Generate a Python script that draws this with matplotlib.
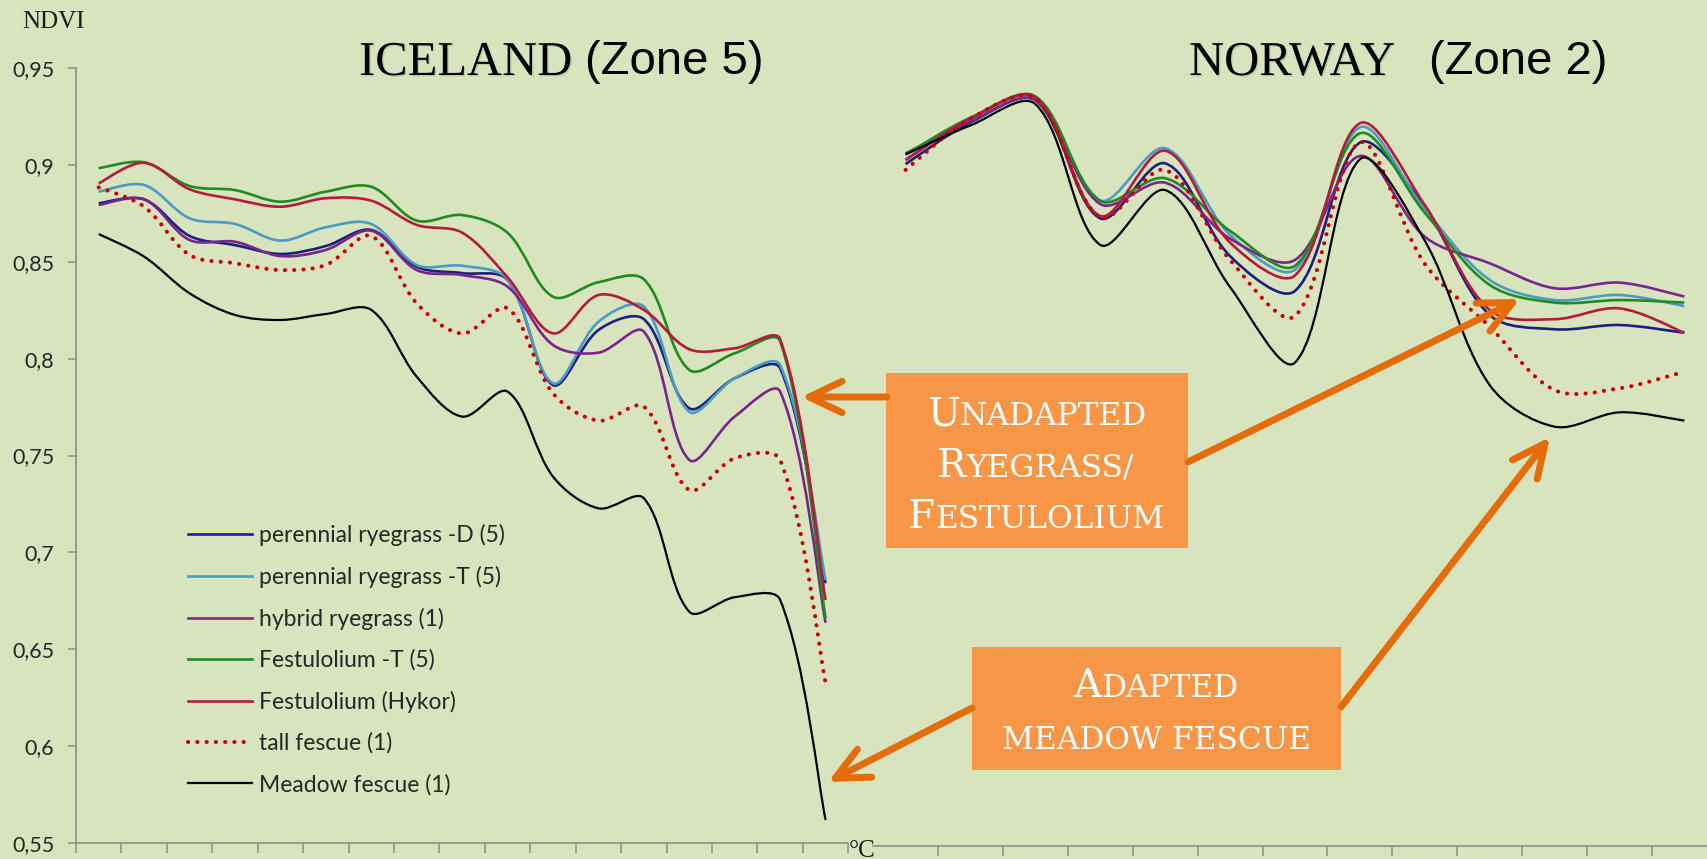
import numpy as np
import matplotlib
matplotlib.use('Agg')
import matplotlib.pyplot as plt
import matplotlib.patheffects as pe
from matplotlib.path import Path
from matplotlib.patches import PathPatch, Rectangle, FancyArrowPatch
from matplotlib.lines import Line2D
from matplotlib.transforms import IdentityTransform

W, H = 1708, 859
BG = '#d7e4bd'

# series names and styles (legend order)
names = ['perennial ryegrass -D (5)', 'perennial ryegrass -T (5)', 'hybrid ryegrass (1)',
         'Festulolium -T (5)', 'Festulolium (Hykor)', 'tall fescue (1)', 'Meadow fescue (1)']
colors = ['#1c1f80', '#4b9bc2', '#7a258c', '#1f8c1f', '#b41a3c', '#cc0000', '#000000']

# ICELAND (zone 5), 17 points
iceland = {
    'perennial ryegrass -D (5)': [0.8803, 0.8823, 0.8634, 0.8587, 0.8541, 0.8582, 0.8665, 0.8475, 0.8442,
                                  0.8407, 0.7864, 0.8148, 0.8204, 0.7744, 0.7899, 0.7950, 0.6840],
    'perennial ryegrass -T (5)': [0.8863, 0.8897, 0.8725, 0.8696, 0.8610, 0.8679, 0.8696, 0.8484, 0.8480,
                                  0.8410, 0.7873, 0.8191, 0.8269, 0.7726, 0.7899, 0.7967, 0.6857],
    'hybrid ryegrass (1)': [0.8794, 0.8823, 0.8613, 0.8604, 0.8530, 0.8562, 0.8661, 0.8458, 0.8432,
                            0.8372, 0.8071, 0.8031, 0.8140, 0.7477, 0.7701, 0.7830, 0.6636],
    'Festulolium -T (5)': [0.8984, 0.9014, 0.8892, 0.8871, 0.8811, 0.8863, 0.8888, 0.8713, 0.8742,
                           0.8650, 0.8320, 0.8395, 0.8410, 0.7942, 0.8028, 0.8090, 0.6660],
    'Festulolium (Hykor)': [0.8906, 0.9012, 0.8875, 0.8823, 0.8785, 0.8829, 0.8816, 0.8691, 0.8651,
                            0.8420, 0.8131, 0.8329, 0.8252, 0.8049, 0.8054, 0.8100, 0.6754],
    'tall fescue (1)': [0.8885, 0.8785, 0.8536, 0.8493, 0.8458, 0.8484, 0.8634, 0.8286, 0.8130,
                        0.8260, 0.7821, 0.7680, 0.7752, 0.7322, 0.7486, 0.7477, 0.6324],
    'Meadow fescue (1)': [0.8644, 0.8527, 0.8338, 0.8226, 0.8200, 0.8231, 0.8252, 0.7907, 0.7701,
                          0.7830, 0.7391, 0.7227, 0.7279, 0.6693, 0.6768, 0.6754, 0.5617],
}

# NORWAY (zone 2), 13 points
norway = {
    'perennial ryegrass -D (5)': [0.9005, 0.9220, 0.9335, 0.8725, 0.9009, 0.8530, 0.8350, 0.9116, 0.8780,
                                  0.8226, 0.8152, 0.8174, 0.8134],
    'perennial ryegrass -T (5)': [0.9030, 0.9235, 0.9345, 0.8816, 0.9087, 0.8640, 0.8460, 0.9195, 0.8773,
                                  0.8407, 0.8303, 0.8329, 0.8272],
    'hybrid ryegrass (1)': [0.9060, 0.9225, 0.9335, 0.8799, 0.8909, 0.8620, 0.8510, 0.9047, 0.8630,
                            0.8493, 0.8364, 0.8393, 0.8321],
    'Festulolium -T (5)': [0.9055, 0.9245, 0.9355, 0.8816, 0.8932, 0.8660, 0.8480, 0.9164, 0.8754,
                           0.8381, 0.8290, 0.8303, 0.8290],
    'Festulolium (Hykor)': [0.9025, 0.9240, 0.9350, 0.8737, 0.9074, 0.8600, 0.8430, 0.9216, 0.8794,
                            0.8252, 0.8204, 0.8260, 0.8134],
    'tall fescue (1)': [0.8975, 0.9240, 0.9345, 0.8730, 0.8975, 0.8510, 0.8220, 0.9117, 0.8490,
                        0.8166, 0.7838, 0.7847, 0.7933],
    'Meadow fescue (1)': [0.9055, 0.9205, 0.9315, 0.8588, 0.8871, 0.8370, 0.7980, 0.9030, 0.8610,
                          0.7864, 0.7649, 0.7723, 0.7680],
}

y_ticks = [0.55, 0.6, 0.65, 0.7, 0.75, 0.8, 0.85, 0.9, 0.95]
y_labels = ['0,55', '0,6', '0,65', '0,7', '0,75', '0,8', '0,85', '0,9', '0,95']


def px(x, y):
    return x / W, 1 - y / H


def smooth_path(ax, xs, ys):
    # excel-like smoothed line, bezier through each point,
    # handle lengths weighted by segment length on screen
    x0, x1 = ax.get_xlim()
    y0, y1 = ax.get_ylim()
    sx = ax.bbox.width / (x1 - x0)
    sy = ax.bbox.height / (y1 - y0)
    p = np.column_stack([np.asarray(xs) * sx, np.asarray(ys) * sy])
    n = len(p)
    seg = np.hypot(*np.diff(p, axis=0).T)
    verts = [p[0]]
    codes = [Path.MOVETO]
    for i in range(n - 1):
        b, c = p[i], p[i + 1]
        a = p[max(i - 1, 0)]
        d = p[min(i + 2, n - 1)]
        d_prev = seg[i - 1] if i > 0 else seg[i]
        d_next = seg[i + 1] if i + 1 < n - 1 else seg[i]
        t_b = (c - a) * seg[i] / (d_prev + seg[i]) / 3
        t_c = (d - b) * seg[i] / (seg[i] + d_next) / 3
        verts += [b + t_b, c - t_c, c]
        codes += [Path.CURVE4] * 3
    verts = np.array(verts) / [sx, sy]
    return Path(verts, codes)


def style(name):
    if name.startswith('tall'):
        return dict(lw=2.9, ls=(0, (0.05, 2.25)), capstyle='round')
    if name.startswith('Meadow'):
        return dict(lw=1.6, ls='-', capstyle='butt')
    return dict(lw=1.9, ls='-', capstyle='butt')


def draw_series(ax, table):
    for name, col in zip(names, colors):
        vals = table[name]
        s = style(name)
        patch = PathPatch(smooth_path(ax, np.arange(len(vals)), vals), fill=False, edgecolor=col,
                          lw=s['lw'], linestyle=s['ls'], capstyle=s['capstyle'],
                          transform=ax.transData)
        ax.add_patch(patch)


fig = plt.figure(figsize=(W / 100, H / 100), dpi=100, facecolor=BG)
grey = '#8c8c8c'

# left chart
ax1 = fig.add_axes([76 / W, 1 - 842.7 / H, (848.3 - 76) / W, (842.7 - 68.3) / H])
ax1.set_facecolor('none')
ax1.set_xlim(-0.5, 16.5)
ax1.set_ylim(0.55, 0.95)
draw_series(ax1, iceland)
for s in ['top', 'right']:
    ax1.spines[s].set_visible(False)
for s in ['left', 'bottom']:
    ax1.spines[s].set_color(grey)
    ax1.spines[s].set_linewidth(1.2)
ax1.set_xticks(np.arange(-0.5, 17, 1))
ax1.tick_params(axis='x', length=7, width=1.1, color=grey, labelbottom=False)
ax1.set_yticks(y_ticks)
ax1.set_yticklabels(y_labels)
ax1.tick_params(axis='y', length=5.5, width=1.1, color=grey, pad=10,
                labelsize=15.5, labelcolor='#262626')
for t in ax1.get_yticklabels():
    t.set_family('Lato')

# right chart
ax2 = fig.add_axes([873.1 / W, 1 - 846 / H, (64.9 * 13) / W, (846 - 68.3) / H])
ax2.set_facecolor('none')
ax2.set_xlim(-0.5, 12.5)
ax2.set_ylim(0.55 - 3.3 * 0.05 / 96.8, 0.95)
draw_series(ax2, norway)
for s in ['top', 'right', 'left']:
    ax2.spines[s].set_visible(False)
ax2.spines['bottom'].set_color(grey)
ax2.spines['bottom'].set_linewidth(1.2)
ax2.set_xticks(np.arange(0.5, 12, 1))
ax2.tick_params(axis='x', length=7, width=1.1, color=grey, labelbottom=False)
ax2.set_yticks([])

# legend
handles = []
for name, col in zip(names, colors):
    s = style(name)
    handles.append(Line2D([], [], color=col, lw=s['lw'], linestyle=s['ls'],
                          dash_capstyle=s['capstyle']))
leg = fig.legend(handles, names, loc='upper left', bbox_to_anchor=px(188, 524),
                 frameon=False, borderpad=0, borderaxespad=0, handlelength=2.8,
                 handletextpad=0.28, labelspacing=0.86,
                 prop={'family': 'Lato', 'size': 16.5})
for t in leg.get_texts():
    t.set_color('#262626')

# texts
fig.text(*px(22.7, 28.3), 'NDVI', family='Liberation Serif', fontsize=18,
         color='#1a1a1a', va='baseline', ha='left')
shadow = [pe.withSimplePatchShadow(offset=(1, -1), shadow_rgbFace='#8a8a8a', alpha=0.3)]
fig.text(*px(359, 75), 'ICELAND', family='Liberation Serif', fontsize=35,
         va='baseline', ha='left', path_effects=shadow)
fig.text(*px(585, 74), '(Zone 5)', family='Liberation Sans', fontsize=34,
         va='baseline', ha='left')
fig.text(*px(1189, 75), 'NORWAY', family='Liberation Serif', fontsize=35,
         va='baseline', ha='left', path_effects=shadow)
fig.text(*px(1429, 74), '(Zone 2)', family='Liberation Sans', fontsize=34,
         va='baseline', ha='left')
fig.text(*px(849, 857), '°C', family='Liberation Serif', fontsize=18,
         color='#1a1a1a', va='baseline', ha='left')

# orange call-out boxes
box_fill = '#f79646'
arrow_col = '#e46c0a'
fig.patches.append(Rectangle(px(886, 548), 302 / W, 175 / H, transform=fig.transFigure,
                             facecolor=box_fill, edgecolor='none', zorder=3))
fig.patches.append(Rectangle(px(972, 770), 369 / W, 123 / H, transform=fig.transFigure,
                             facecolor=box_fill, edgecolor='none', zorder=3))

big, small = 28, 22.5
renderer = fig.canvas.get_renderer()


def caps_line(parts, cx, base):
    texts = [fig.text(0, 0, s, fontsize=size, family='DejaVu Serif', color='white',
                      transform=IdentityTransform(), va='baseline', ha='left', zorder=5)
             for s, size in parts]
    widths = [t.get_window_extent(renderer).width for t in texts]
    x = cx - sum(widths) / 2
    for t, w in zip(texts, widths):
        t.set_position((x, H - base))
        x += w


caps_line([('U', big), ('NADAPTED', small)], 1037, 425)
caps_line([('R', big), ('YEGRASS/', small)], 1035, 477)
caps_line([('F', big), ('ESTULOLIUM', small)], 1036, 528)
caps_line([('A', big), ('DAPTED', small)], 1156, 697)
caps_line([('MEADOW FESCUE', small)], 1156, 749)

# arrows
arrows = [((887, 397), (801, 397)),
          ((1188, 462), (1520, 299)),
          ((972, 708), (828, 782)),
          ((1341, 707), (1550, 437))]
for a, b in arrows:
    arr = FancyArrowPatch(px(*a), px(*b), transform=fig.transFigure,
                          arrowstyle='->,head_length=0.95,head_width=0.45',
                          mutation_scale=25, color=arrow_col, lw=5,
                          shrinkA=0, shrinkB=0, capstyle='round', zorder=4)
    fig.patches.append(arr)

fig.savefig('out.png', dpi=100, facecolor=BG)
